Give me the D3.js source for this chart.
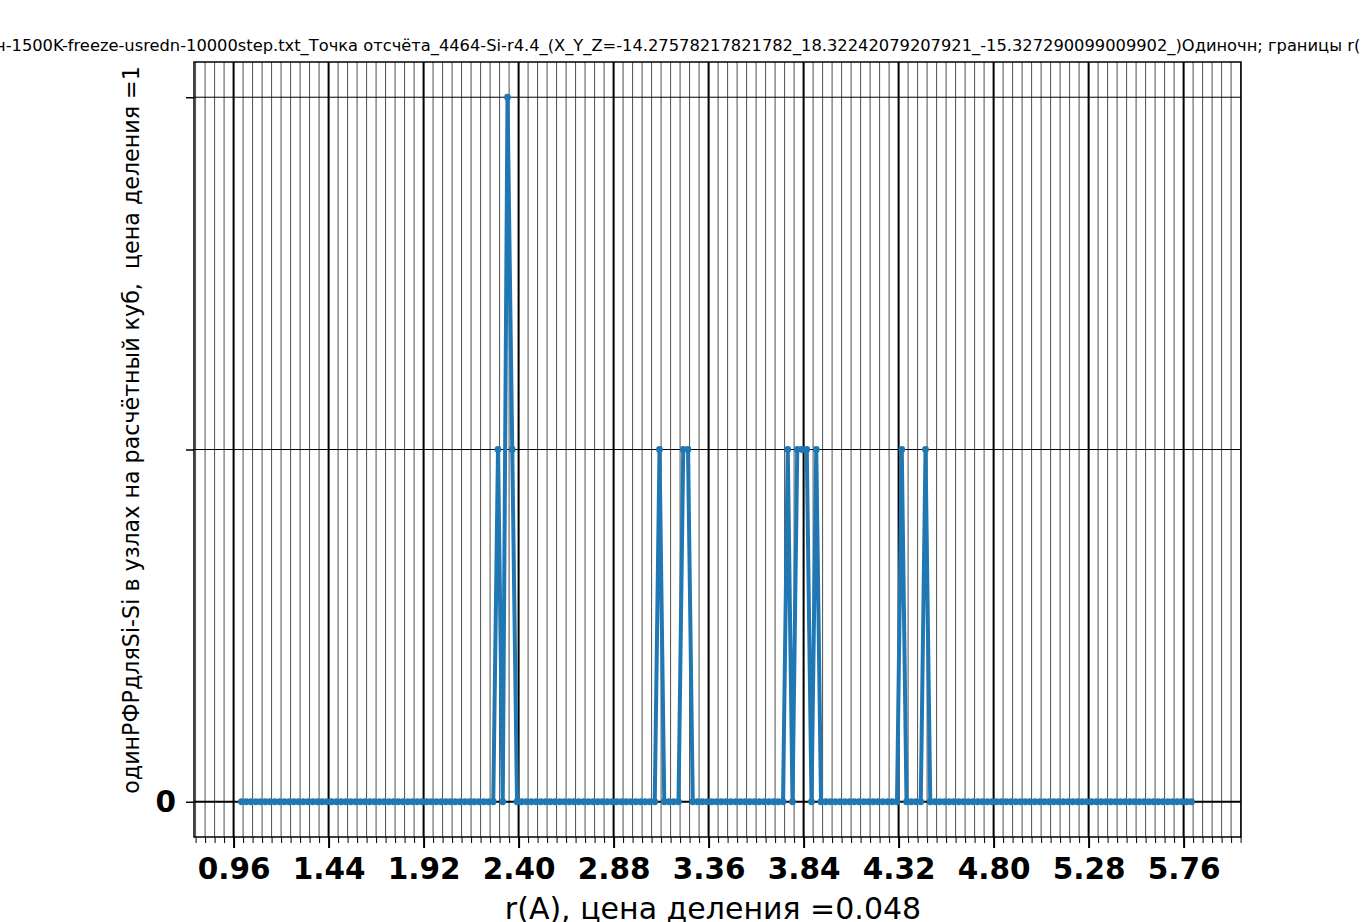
<!DOCTYPE html>
<html>
<head>
<meta charset="utf-8">
<script src="https://cdn.jsdelivr.net/npm/d3@7"></script>
<style>
  body { margin: 0; background: #fff; }
  svg { display: block; }
  text { font-family: "DejaVu Sans", sans-serif; }
</style>
</head>
<body>
<div id="chart"></div>
<script>
// r grid (A), step 0.024
var rValues = [
  1.000, 1.024, 1.048, 1.072, 1.096, 1.120, 1.144, 1.168, 1.192, 1.216,
  1.240, 1.264, 1.288, 1.312, 1.336, 1.360, 1.384, 1.408, 1.432, 1.456,
  1.480, 1.504, 1.528, 1.552, 1.576, 1.600, 1.624, 1.648, 1.672, 1.696,
  1.720, 1.744, 1.768, 1.792, 1.816, 1.840, 1.864, 1.888, 1.912, 1.936,
  1.960, 1.984, 2.008, 2.032, 2.056, 2.080, 2.104, 2.128, 2.152, 2.176,
  2.200, 2.224, 2.248, 2.272, 2.296, 2.320, 2.344, 2.368, 2.392, 2.416,
  2.440, 2.464, 2.488, 2.512, 2.536, 2.560, 2.584, 2.608, 2.632, 2.656,
  2.680, 2.704, 2.728, 2.752, 2.776, 2.800, 2.824, 2.848, 2.872, 2.896,
  2.920, 2.944, 2.968, 2.992, 3.016, 3.040, 3.064, 3.088, 3.112, 3.136,
  3.160, 3.184, 3.208, 3.232, 3.256, 3.280, 3.304, 3.328, 3.352, 3.376,
  3.400, 3.424, 3.448, 3.472, 3.496, 3.520, 3.544, 3.568, 3.592, 3.616,
  3.640, 3.664, 3.688, 3.712, 3.736, 3.760, 3.784, 3.808, 3.832, 3.856,
  3.880, 3.904, 3.928, 3.952, 3.976, 4.000, 4.024, 4.048, 4.072, 4.096,
  4.120, 4.144, 4.168, 4.192, 4.216, 4.240, 4.264, 4.288, 4.312, 4.336,
  4.360, 4.384, 4.408, 4.432, 4.456, 4.480, 4.504, 4.528, 4.552, 4.576,
  4.600, 4.624, 4.648, 4.672, 4.696, 4.720, 4.744, 4.768, 4.792, 4.816,
  4.840, 4.864, 4.888, 4.912, 4.936, 4.960, 4.984, 5.008, 5.032, 5.056,
  5.080, 5.104, 5.128, 5.152, 5.176, 5.200, 5.224, 5.248, 5.272, 5.296,
  5.320, 5.344, 5.368, 5.392, 5.416, 5.440, 5.464, 5.488, 5.512, 5.536,
  5.560, 5.584, 5.608, 5.632, 5.656, 5.680, 5.704, 5.728, 5.752, 5.776,
  5.800
];

// counts per node
var gValues = [
  0, 0, 0, 0, 0, 0, 0, 0, 0, 0,
  0, 0, 0, 0, 0, 0, 0, 0, 0, 0,
  0, 0, 0, 0, 0, 0, 0, 0, 0, 0,
  0, 0, 0, 0, 0, 0, 0, 0, 0, 0,
  0, 0, 0, 0, 0, 0, 0, 0, 0, 0,
  0, 0, 0, 0, 1, 0, 2, 1, 0, 0,
  0, 0, 0, 0, 0, 0, 0, 0, 0, 0,
  0, 0, 0, 0, 0, 0, 0, 0, 0, 0,
  0, 0, 0, 0, 0, 0, 0, 0, 1, 0,
  0, 0, 0, 1, 1, 0, 0, 0, 0, 0,
  0, 0, 0, 0, 0, 0, 0, 0, 0, 0,
  0, 0, 0, 0, 0, 1, 0, 1, 1, 1,
  0, 1, 0, 0, 0, 0, 0, 0, 0, 0,
  0, 0, 0, 0, 0, 0, 0, 0, 0, 1,
  0, 0, 0, 0, 1, 0, 0, 0, 0, 0,
  0, 0, 0, 0, 0, 0, 0, 0, 0, 0,
  0, 0, 0, 0, 0, 0, 0, 0, 0, 0,
  0, 0, 0, 0, 0, 0, 0, 0, 0, 0,
  0, 0, 0, 0, 0, 0, 0, 0, 0, 0,
  0, 0, 0, 0, 0, 0, 0, 0, 0, 0,
  0
];

var xTicks = [0.96, 1.44, 1.92, 2.40, 2.88, 3.36, 3.84, 4.32, 4.80, 5.28, 5.76];
var xTickLabels = ["0.96", "1.44", "1.92", "2.40", "2.88", "3.36", "3.84", "4.32", "4.80", "5.28", "5.76"];
var yTicks = [0, 1, 2];
var yTickLabels = ["0", "", ""];

var titleText = "н-1500K-freeze-usredn-10000step.txt_Точка отсчёта_4464-Si-r4.4_(X_Y_Z=-14.27578217821782_18.32242079207921_-15.327290099009902_)Одиночн; границы r(";
var xLabel = "r(A), цена деления =0.048";
var yLabel = "одинРФРдляSi-Si в узлах на расчётный куб,  цена деления =1";

// define dimensions
var svgWidth = 1370;
var svgHeight = 922;
var margin = { top: 62, right: 129, bottom: 85, left: 194 };
var width = svgWidth - margin.left - margin.right;
var height = svgHeight - margin.top - margin.bottom;

var svg = d3.select("#chart")
    .append("svg")
    .attr("width", svgWidth)
    .attr("height", svgHeight);

var g = svg.append("g")
    .attr("transform", "translate(" + margin.left + "," + margin.top + ")");

var x = d3.scaleLinear().domain([0.76, 6.05]).range([0, width]);
var y = d3.scaleLinear().domain([-0.1, 2.1]).range([height, 0]);

// minor step = 0.048
var minorTicks = d3.range(16, 127).map(function (i) { return +(i * 0.048).toFixed(3); });

// minor vertical grid
g.append("g").selectAll("line")
    .data(minorTicks)
    .enter()
    .append("line")
    .attr("x1", function (d) { return x(d); })
    .attr("x2", function (d) { return x(d); })
    .attr("y1", 0)
    .attr("y2", height)
    .attr("stroke", "#222")
    .attr("stroke-width", 0.8);

// major vertical grid
g.append("g").selectAll("line")
    .data(xTicks)
    .enter()
    .append("line")
    .attr("x1", function (d) { return x(d); })
    .attr("x2", function (d) { return x(d); })
    .attr("y1", 0)
    .attr("y2", height)
    .attr("stroke", "#000")
    .attr("stroke-width", 2);

// horizontal grid
g.append("g").selectAll("line")
    .data(yTicks)
    .enter()
    .append("line")
    .attr("x1", 0)
    .attr("x2", width)
    .attr("y1", function (d) { return y(d); })
    .attr("y2", function (d) { return y(d); })
    .attr("stroke", "#000")
    .attr("stroke-width", function (d) { return d === 0 ? 2 : 1; });

// data line
var points = rValues.map(function (r, i) { return { r: r, v: gValues[i] }; });

var line = d3.line()
    .x(function (d) { return x(d.r); })
    .y(function (d) { return y(d.v); });

g.append("path")
    .datum(points)
    .attr("fill", "none")
    .attr("stroke", "#1f77b4")
    .attr("stroke-width", 4)
    .attr("stroke-linejoin", "round")
    .attr("d", line);

g.append("g").selectAll("circle")
    .data(points)
    .enter()
    .append("circle")
    .attr("cx", function (d) { return x(d.r); })
    .attr("cy", function (d) { return y(d.v); })
    .attr("r", 3.4)
    .attr("fill", "#1f77b4");

// frame
g.append("rect")
    .attr("width", width)
    .attr("height", height)
    .attr("fill", "none")
    .attr("stroke", "#000")
    .attr("stroke-width", 1.5);

// x axis: minor ticks then major ticks
var xMinorAxis = g.append("g")
    .attr("transform", "translate(0," + height + ")")
    .call(d3.axisBottom(x).tickValues(minorTicks).tickSize(6).tickFormat(""));
xMinorAxis.select(".domain").remove();
xMinorAxis.selectAll(".tick line").attr("stroke-width", 1);

var xAxis = g.append("g")
    .attr("transform", "translate(0," + height + ")")
    .call(d3.axisBottom(x).tickValues(xTicks).tickSize(11).tickPadding(10)
        .tickFormat(function (d, i) { return xTickLabels[i]; }));
xAxis.select(".domain").remove();
xAxis.selectAll(".tick line").attr("stroke-width", 2);
xAxis.selectAll(".tick text")
    .attr("font-family", "DejaVu Sans")
    .attr("font-size", 29.5)
    .attr("font-weight", "bold")
    .attr("fill", "#000");

var yAxis = g.append("g")
    .call(d3.axisLeft(y).tickValues(yTicks).tickSize(8).tickPadding(10)
        .tickFormat(function (d, i) { return yTickLabels[i]; }));
yAxis.select(".domain").remove();
yAxis.selectAll(".tick line").attr("stroke-width", 1.5);
yAxis.selectAll(".tick text")
    .attr("font-family", "DejaVu Sans")
    .attr("font-size", 29.5)
    .attr("font-weight", "bold")
    .attr("fill", "#000");

// labels
svg.append("text")
    .attr("x", 713)
    .attr("y", 919)
    .attr("text-anchor", "middle")
    .attr("font-size", 30)
    .attr("fill", "#000")
    .text(xLabel);

svg.append("text")
    .attr("transform", "translate(139,430) rotate(-90)")
    .attr("text-anchor", "middle")
    .attr("font-size", 22.2)
    .attr("fill", "#000")
    .style("white-space", "pre")
    .text(yLabel);

svg.append("text")
    .attr("x", -5)
    .attr("y", 51)
    .attr("font-size", 16.3)
    .attr("fill", "#000")
    .text(titleText);
</script>
</body>
</html>
